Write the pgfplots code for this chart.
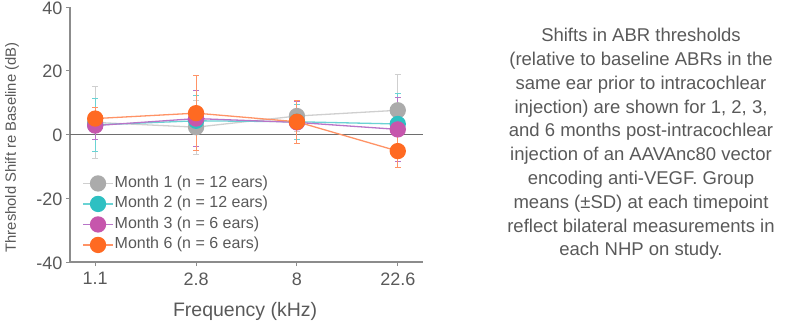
\documentclass[border=0pt]{standalone}
\usepackage{pgfplots}
\pgfplotsset{compat=1.18}
\usepackage{fontspec}
\setmainfont{Liberation Sans}
\definecolor{txt}{HTML}{595959}
\definecolor{axgray}{HTML}{8C8C8C}
\definecolor{zerogray}{HTML}{6E6E6E}
\definecolor{cA}{HTML}{ABABAB}
\definecolor{cAl}{HTML}{CFCFCF}
\definecolor{cB}{HTML}{2EC0C2}
\definecolor{cBl}{HTML}{6AD3D4}
\definecolor{cC}{HTML}{C656AC}
\definecolor{cCl}{HTML}{B874C8}
\definecolor{cD}{HTML}{FF6A22}
\definecolor{cDl}{HTML}{FF9366}

\pgfplotstableread{
x y e
0 3.8 11.3
1 2.3 8.5
2 5.8 5.0
3 7.6 11.2
}\monthone
\pgfplotstableread{
x y e
0 3.0 8.3
1 4.3 8.0
2 4.0 5.5
3 3.3 9.7
}\monthtwo
\pgfplotstableread{
x y e
0 2.8 4.5
1 5.0 8.8
2 3.8 6.5
3 1.6 10.0
}\monththree
\pgfplotstableread{
x y e
0 5.0 3.4
1 6.7 11.8
2 4.0 6.8
3 -5.2 5.0
}\monthsix

\begin{document}
\begin{tikzpicture}
\path[use as bounding box] (0pt,0pt) rectangle (804pt,322pt);
\begin{axis}[
  at={(70pt,60pt)}, anchor=south west,
  scale only axis, width=353pt, height=255pt,
  xmin=-0.25, xmax=3.25, ymin=-40, ymax=40,
  xtick={0,1,2,3}, xticklabels={1.1,2.8,8,22.6},
  ytick={-40,-20,0,20,40},
  axis x line=bottom, axis y line=left,
  axis line style={-, draw=axgray, line width=1.6pt},
  tick align=outside, major tick length=4pt,
  tick style={draw=axgray, line width=1pt},
  /pgf/number format/assume math mode=true,
  ticklabel style={font=\fontsize{18}{20}\selectfont, text=txt},
  xticklabel style={yshift=-3pt},
  yticklabel style={yshift=-1pt},
  ylabel={Threshold Shift re Baseline (dB)},
  ylabel style={at={(axis description cs:-0.164,0.449)}, anchor=center, font=\fontsize{14.8}{16}\selectfont, text=txt},
  xlabel={Frequency (kHz)},
  xlabel style={at={(axis description cs:0.496,-0.195)}, anchor=center, font=\fontsize{19.5}{21}\selectfont, text=txt},
  legend style={at={(axis description cs:0.026,0.352)}, anchor=north west, draw=none, fill=none,
    font=\fontsize{16}{18}\selectfont, text=txt, row sep=2.5pt,
    nodes={inner sep=1pt, text height=12pt, text depth=4pt}},
  legend cell align=left,
  legend image code/.code={\draw[mark repeat=2,mark phase=2,#1] plot coordinates {(0pt,0pt) (15pt,0pt) (30pt,0pt)};},
  clip=false,
]
\draw[zerogray, line width=1.8pt] (axis cs:-0.25,0) -- (axis cs:3.25,0);
\addplot[cAl, line width=1.3pt, mark=*, mark size=7.5pt, mark options={fill=cA, draw=cA},
  error bars/.cd, y dir=both, y explicit, error bar style={cAl, line width=1pt},
  error mark options={rotate=90, mark size=3pt, cAl, line width=1pt}]
  table[x=x, y=y, y error=e] {\monthone};
\addlegendentry{Month 1 (n = 12 ears)}
\addplot[cBl, line width=1.3pt, mark=*, mark size=7.5pt, mark options={fill=cB, draw=cB},
  error bars/.cd, y dir=both, y explicit, error bar style={cBl, line width=1pt},
  error mark options={rotate=90, mark size=3pt, cBl, line width=1pt}]
  table[x=x, y=y, y error=e] {\monthtwo};
\addlegendentry{Month 2 (n = 12 ears)}
\addplot[cCl, line width=1.3pt, mark=*, mark size=7.5pt, mark options={fill=cC, draw=cC},
  error bars/.cd, y dir=both, y explicit, error bar style={cCl, line width=1pt},
  error mark options={rotate=90, mark size=3pt, cCl, line width=1pt}]
  table[x=x, y=y, y error=e] {\monththree};
\addlegendentry{Month 3 (n = 6 ears)}
\addplot[cDl, line width=1.3pt, mark=*, mark size=7.5pt, mark options={fill=cD, draw=cD},
  error bars/.cd, y dir=both, y explicit, error bar style={cDl, line width=1pt},
  error mark options={rotate=90, mark size=3pt, cDl, line width=1pt}]
  table[x=x, y=y, y error=e] {\monthsix};
\addlegendentry{Month 6 (n = 6 ears)}
\end{axis}
\node[align=center, text=txt, font=\fontsize{18.5}{23.8}\selectfont] at (641pt,178pt) {%
Shifts in ABR thresholds\\
(relative to baseline ABRs in the\\
same ear prior to intracochlear\\
injection) are shown for 1, 2, 3,\\
and 6 months post-intracochlear\\
injection of an AAVAnc80 vector\\
encoding anti-VEGF. Group\\
means (±SD) at each timepoint\\
reflect bilateral measurements in\\
each NHP on study.};
\end{tikzpicture}
\end{document}
